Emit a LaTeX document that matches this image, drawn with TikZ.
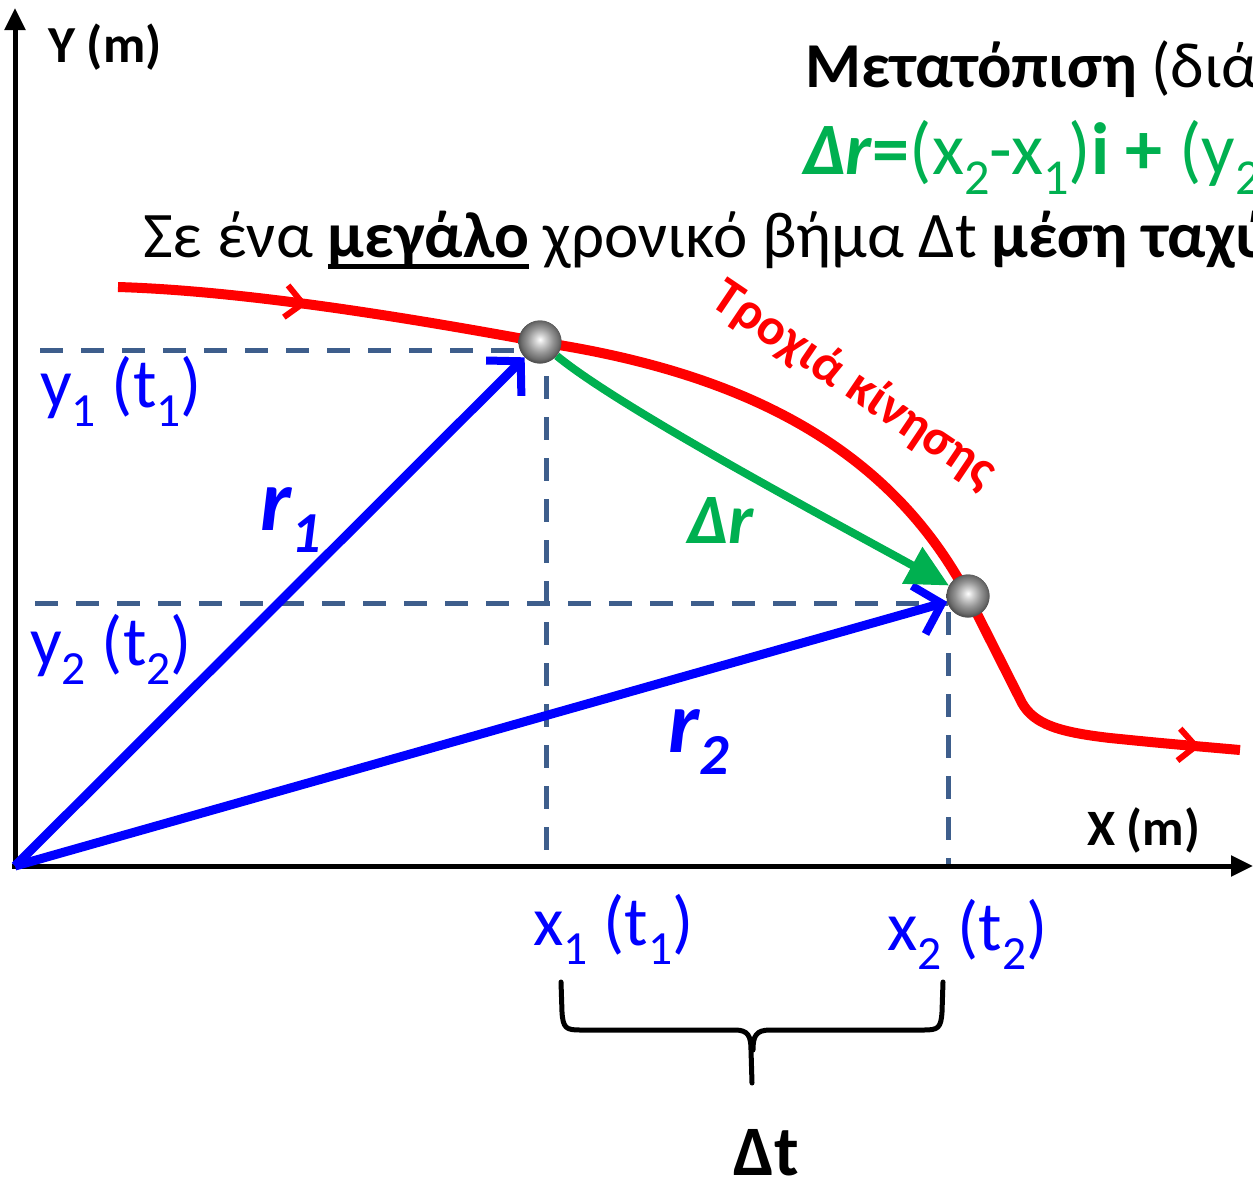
\documentclass[tikz,border=0pt]{standalone}
\usepackage{fontspec}
\setmainfont{Carlito}
\usetikzlibrary{arrows.meta,decorations.markings}
\definecolor{dashblue}{RGB}{62,94,140}
\definecolor{mygreen}{RGB}{0,176,80}
\definecolor{myblue}{RGB}{0,0,255}
\definecolor{myred}{RGB}{255,0,0}
\newcommand{\sbt}[1]{\raisebox{-0.28em}{\scalebox{0.68}{#1}}}
\newcommand{\myul}[1]{\setbox0=\hbox{#1}\rlap{\raisebox{-0.19em}{\rule{\wd0}{0.085em}}}\box0\relax}
\pgfdeclareradialshading{sphere}{\pgfpoint{0bp}{3bp}}{color(0bp)=(white); color(5bp)=(black!15); color(15bp)=(black!42); color(22bp)=(black!58); color(25bp)=(black!68); color(50bp)=(black!68)}
\begin{document}
\begin{tikzpicture}[x=1pt,y=-1pt,
  txt/.style={anchor=base west, inner sep=0pt},
  lbl/.style={txt, text=myblue, font=\fontsize{70}{76}\selectfont},
  rlbl/.style={txt, text=myblue, font=\fontsize{88}{90}\selectfont\bfseries\itshape},
  axisline/.style={line width=5pt, -{Triangle[length=22pt,width=20pt]}},
  guide/.style={dashblue, line width=5pt, dash pattern=on 23pt off 18pt},
  vec/.style={myblue, line width=9pt, -{Straight Barb[length=24pt,width=50pt,line width=8pt]}},
  disp/.style={mygreen, line width=8pt, -{Triangle[length=42pt,width=40pt]}},
  traj/.style={myred, line width=10pt},
  ballnode/.style={circle, minimum size=43pt, inner sep=0pt, shading=sphere},
  redbarb/.tip={Straight Barb[length=17pt,width=32pt,line width=6pt]}
]
\useasboundingbox (0,0) rectangle (1253,1179);
\clip (0,0) rectangle (1253,1179);

% coordinates
\coordinate (O) at (15,866);
\coordinate (xs) at (12,866);
\coordinate (ys) at (15,869);
\coordinate (xtip) at (1253,866);
\coordinate (ytip) at (15,8);

% guide dashed lines
\coordinate (h1a) at (40,350);
\coordinate (h1b) at (522,350);
\coordinate (v1a) at (546,376);
\coordinate (v1b) at (546,866);
\coordinate (h2a) at (35,603);
\coordinate (h2b) at (948,603);
\coordinate (v2a) at (948,612);
\coordinate (v2b) at (948,866);
\draw[guide] (h1a) -- (h1b);
\draw[guide] (v1a) -- (v1b);
\draw[guide] (h2a) -- (h2b);
\draw[guide] (v2a) -- (v2b);

% axes
\draw[axisline] (ys) -- (ytip);
\draw[axisline] (xs) -- (xtip);

% balls (positions)
\node[ballnode] (b1) at (540,342) {};
\node[ballnode] (b2) at (968,596) {};

% trajectory
\draw[traj, postaction={decorate}, decoration={markings,
    mark=at position 190pt with {\arrow[myred]{redbarb}},
    mark=at position -40pt with {\arrow[myred]{redbarb}}}]
  (118,287) .. controls (250,291) and (420,320) .. (b1.center)
  .. controls (740,372) and (888,445) .. (b2.center)
  -- (1022,703) .. controls (1034,724) and (1058,732) .. (1110,738)
  .. controls (1160,743) .. (1240,750);

% position vectors
\draw[vec] (O) -- (b1);
\draw[vec] (O) -- (b2);

% displacement
\draw[disp] (b1) .. controls (620,408) and (830,520) .. (b2);

% balls on top
\node[ballnode] at (b1) {};
\node[ballnode] at (b2) {};

% brace
\draw[line width=5pt, line cap=round, line join=round]
  (561,982) -- (562,1012) .. controls (563,1028) and (566,1030) .. (580,1030)
  -- (735,1030) .. controls (748,1030) and (751,1036) .. (751,1050) -- (752,1083);
\draw[line width=5pt, line cap=round, line join=round]
  (943,982) -- (942,1012) .. controls (941,1028) and (938,1030) .. (924,1030)
  -- (770,1030) .. controls (756,1030) and (753,1036) .. (753,1050);

% texts
\node[txt, font=\fontsize{64}{68}\selectfont] (title) at (805,87) {\textbf{Μετατόπιση} (διά};
\node[txt, text=mygreen, font=\fontsize{74}{80}\selectfont] (eq) at (803,174) {\textbf{\textit{Δr}=}(x\sbt{2}-x\sbt{1})\textbf{i + }(y\sbt{2}};
\node[txt, font=\fontsize{65}{70}\selectfont] (line3) at (143,257) {Σε ένα \myul{\textbf{μεγάλο}} χρονικό βήμα Δt \textbf{μέση ταχύ}};

\node[txt, font=\fontsize{52}{56}\selectfont\bfseries] (ylab) at (48,62) {Y (m)};
\node[txt, font=\fontsize{51}{55}\selectfont\bfseries] (xlab) at (1087,845) {X (m)};

\node[lbl] (y1l) at (40,407) {y\sbt{1} (t\sbt{1})};
\node[lbl] (y2l) at (30,665) {y\sbt{2} (t\sbt{2})};
\node[lbl] (x1l) at (533,945) {x\sbt{1} (t\sbt{1})};
\node[lbl] (x2l) at (887,950) {x\sbt{2} (t\sbt{2})};

\node[rlbl] (r1l) at (260,530) {r\raisebox{-0.25em}{\scalebox{0.66}{1}}};
\node[rlbl] (r2l) at (668,752) {r\raisebox{-0.25em}{\scalebox{0.66}{2}}};

\node[txt, text=mygreen, font=\fontsize{71}{76}\selectfont\bfseries\itshape] (drl) at (687,543) {Δr};
\node[txt, font=\fontsize{71}{76}\selectfont\bfseries] (dtl) at (733,1175) {Δt};

\node[text=myred, inner sep=0pt, rotate=-34, font=\fontsize{52}{56}\selectfont\bfseries] (trl) at (854,385) {Τροχιά κίνησης};
\end{tikzpicture}
\end{document}
